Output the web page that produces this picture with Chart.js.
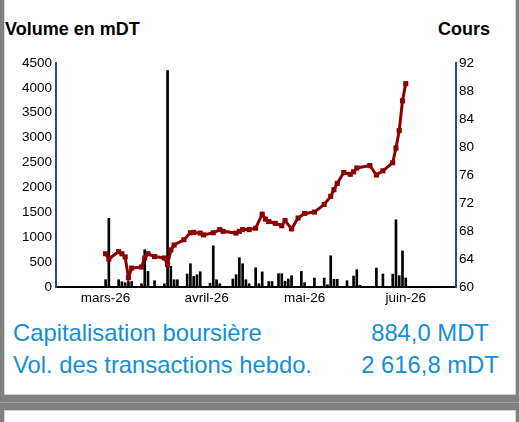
<!DOCTYPE html>
<html><head><meta charset="utf-8">
<script src="https://cdn.jsdelivr.net/npm/chart.js@4.4.0/dist/chart.umd.min.js"></script>
<style>
html,body{margin:0;padding:0;}
body{width:519px;height:422px;background:#808080;position:relative;overflow:hidden;font-family:"Liberation Sans",Arial,sans-serif;}
.panel{position:absolute;left:4px;width:510px;background:#fff;border:1px solid #d2d2d2;}
#p1{top:-2px;height:395px;}
#p2{top:410px;height:60px;}
#sep{position:absolute;left:0;top:402px;width:519px;height:1px;background:#9c9c9c;}
.ttl{position:absolute;top:20px;font-weight:bold;font-size:18px;line-height:18px;color:#000;white-space:nowrap;}
#t1{left:5px;}
#t2{right:29px;}
.info{position:absolute;font-size:23.8px;line-height:24px;color:#168ed6;white-space:nowrap;}
.lab{left:13px;}
.val{left:330px;width:200px;text-align:center;}
#wrap{position:absolute;left:0;top:50px;width:519px;height:262px;}
</style>
</head><body>
<div class="panel" id="p1"></div>
<div id="sep"></div>
<div class="panel" id="p2"></div>
<div class="ttl" id="t1">Volume en mDT</div>
<div class="ttl" id="t2">Cours</div>
<div class="info lab" style="top:321px">Capitalisation boursière</div>
<div class="info lab" style="top:353px">Vol. des transactions hebdo.</div>
<div class="info val" style="top:321px">884,0 MDT</div>
<div class="info val" style="top:353px">2 616,8 mDT</div>
<div id="wrap"><canvas id="c" width="519" height="262"></canvas></div>
<script>
// ---- data ----
const YEAR = 2026;
const priceDates = ['03-01','03-02','03-05','03-06','03-07','03-08','03-09','03-12','03-13','03-14','03-16','03-19','03-20','03-21','03-22','03-25','03-27','03-28','03-30','03-31','04-03','04-05','04-06','04-10','04-11','04-12','04-14','04-16','04-18','04-19','04-20','04-22','04-24','04-25','04-27','04-29','05-01','05-04','05-07','05-09','05-10','05-11','05-13','05-15','05-16','05-17','05-21','05-23','05-25','05-28','05-29','05-30','05-31','06-01'];
const prices = [64.75,64.0,65.05,64.75,64.3,61.33,62.7,62.85,64.15,64.75,64.35,64.15,63.2,65.3,66.0,66.75,67.75,67.8,67.7,67.45,67.75,68.2,67.95,67.7,67.95,68.2,68.2,68.4,70.4,69.7,69.35,69.1,68.75,69.5,68.3,69.85,70.5,70.7,71.8,72.95,73.9,74.8,76.35,76.1,76.45,77.0,77.35,76.0,76.6,77.75,79.85,82.35,86.6,89.05];
const volumeDates = ['03-01','03-02','03-05','03-06','03-07','03-08','03-09','03-12','03-13','03-14','03-16','03-19','03-20','03-21','03-22','03-23','03-26','03-27','03-28','03-29','03-30','04-02','04-03','04-04','04-05','04-09','04-10','04-11','04-12','04-13','04-14','04-16','04-17','04-18','04-20','04-21','04-23','04-24','04-25','04-26','04-27','04-30','05-01','05-04','05-07','05-08','05-09','05-10','05-11','05-14','05-16','05-17','05-18','05-23','05-25','05-28','05-29','05-30','05-31','06-01'];
const volumes = [146,1380,146,106,86,112,112,66,748,313,126,66,4350,413,146,146,260,467,213,247,307,76,828,146,66,160,247,588,467,146,66,387,66,303,110,110,267,267,116,160,227,313,86,180,180,46,628,156,156,126,220,347,36,381,261,257,1350,227,725,180];
const monthTickDates = ['03-01','04-01','05-01','06-01'];
const monthTickLabels = ['mars-26','avril-26','mai-26','juin-26'];
const volumeTicks = {min:0, max:4500, step:500};
const priceTicks = {min:60, max:92, step:4};

// day offset from 1 March
const ORIGIN = Date.UTC(YEAR, 2, 1);
function dayOf(md){ const [m,d] = md.split('-').map(Number); return (Date.UTC(YEAR, m-1, d) - ORIGIN)/86400000; }

const priceData = priceDates.map((d,i)=>({x:dayOf(d), y:prices[i]}));
const volumeData = volumeDates.map((d,i)=>({x:dayOf(d), y:volumes[i]}));
const monthTickVals = monthTickDates.map(dayOf);

Chart.defaults.font.family = '"Liberation Sans", Arial, sans-serif';
Chart.defaults.font.size = 13.5;
Chart.defaults.color = '#000';

new Chart(document.getElementById('c'), {
  type: 'bar',
  data: {
    datasets: [
      {type:'line', data: priceData, yAxisID:'y1', xAxisID:'x', order:0,
       borderColor:'#8b0000', borderWidth:3, tension:0,
       pointStyle:'rect', pointRadius:3.6, pointBackgroundColor:'#8b0000', pointBorderWidth:0,
       pointHoverRadius:3.6},
      {type:'bar', data: volumeData, yAxisID:'y', xAxisID:'x', order:1,
       backgroundColor:'#000', barThickness:2, borderWidth:0}
    ]
  },
  options: {
    responsive:false, animation:false, devicePixelRatio:1,
    layout:{padding:{top:13, left:0, right:0, bottom:0}},
    plugins:{legend:{display:false}, tooltip:{enabled:false}},
    scales:{
      x:{type:'linear', min:-15.2, max:107.4, offset:false,
         grid:{display:false, drawTicks:false, offset:false},
         border:{display:true, color:'#000', width:2},
         afterBuildTicks:(ax)=>{ ax.ticks = monthTickVals.map(v=>({value:v})); },
         afterFit:(ax)=>{ ax.height = 25; },
         ticks:{autoSkip:false, maxRotation:0, padding:3,
                callback:(v)=>{ const i = monthTickVals.indexOf(v); return i>=0 ? monthTickLabels[i] : ''; }}},
      y:{type:'linear', position:'left', min:volumeTicks.min, max:volumeTicks.max,
         grid:{display:false, drawTicks:false},
         border:{display:true, color:'#343f86', width:2},
         afterFit:(ax)=>{ ax.width = 56; },
         ticks:{stepSize:volumeTicks.step, padding:4, callback:(v)=>String(v)}},
      y1:{type:'linear', position:'right', min:priceTicks.min, max:priceTicks.max,
         grid:{display:false, drawTicks:false},
         border:{display:true, color:'#343f86', width:2},
         afterFit:(ax)=>{ ax.width = 63; },
         ticks:{stepSize:priceTicks.step, padding:3, callback:(v)=>String(v)}}
    }
  }
});
</script>
</body></html>
